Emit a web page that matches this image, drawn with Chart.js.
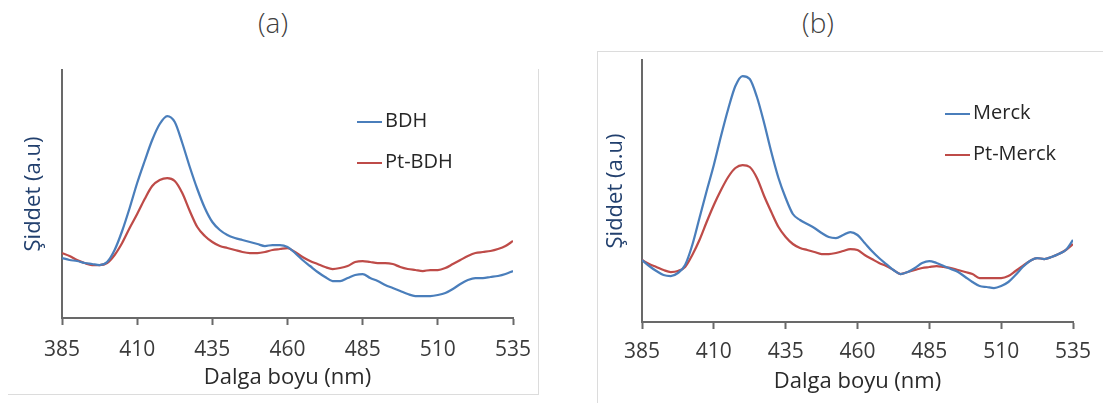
<!DOCTYPE html>
<html>
<head>
<meta charset="utf-8">
<title>Şiddet spektrumları</title>
<script src="https://cdn.jsdelivr.net/npm/chart.js@4.4.0/dist/chart.umd.min.js"></script>
<style>
  body { margin: 0; background: #fff; font-family: "Open Sans", sans-serif; }
  #wrap { position: relative; width: 1103px; height: 403px; overflow: hidden; }
  canvas { position: absolute; top: 0; }
  .panel-title { position: absolute; top: 3px; font-size: 28px; font-weight: 300; color: #404040; transform: translateX(-50%); }
  .frame { position: absolute; border: 0 solid #dcdcdc; }
  .legend { position: absolute; font-size: 20px; color: #262626; }
  .legend .item { height: 41px; line-height: 24px; white-space: nowrap; }
  .legend .swatch { display: inline-block; width: 25px; height: 2px; vertical-align: middle; margin-right: 3px; }
</style>
</head>
<body>
<div id="wrap">
  <div class="frame" style="left:8px; top:69px; width:530px; height:325px; border-right-width:1px; border-bottom-width:1px;"></div>
  <div class="frame" style="left:597px; top:51px; width:520px; height:352px; border-width:1px;"></div>
  <div class="panel-title" style="left:273px;">(a)</div>
  <div class="panel-title" style="left:818px;">(b)</div>
  <canvas id="chartA" width="550" height="403" style="left:0;"></canvas>
  <canvas id="chartB" width="553" height="403" style="left:550px;"></canvas>
  <div class="legend" id="legendA" style="left:357px; top:108px;"></div>
  <div class="legend" id="legendB" style="left:945px; top:100px;"></div>
</div>
<script>
// wavelength grid (nm)
const wavelengths = [385, 387.5, 390, 392.5, 395, 397.5, 400, 402.5, 405, 407.5,
  410, 412.5, 415, 417.5, 420, 422.5, 425, 427.5, 430, 432.5,
  435, 437.5, 440, 442.5, 445, 447.5, 450, 452.5, 455, 457.5,
  460, 462.5, 465, 467.5, 470, 472.5, 475, 477.5, 480, 482.5,
  485, 487.5, 490, 492.5, 495, 497.5, 500, 502.5, 505, 507.5,
  510, 512.5, 515, 517.5, 520, 522.5, 525, 527.5, 530, 532.5, 535];
const xTicks = [385, 410, 435, 460, 485, 510, 535];

// panel (a) intensities, a.u.
const bdh = [60, 58, 57, 55, 54, 53, 56, 68, 87, 110,
  135, 157, 178, 194, 202, 196, 175, 151, 129, 110,
  96, 88, 83, 80, 78, 76, 74, 72, 73, 73,
  71, 65, 58, 52, 46, 41, 37, 37, 40, 43,
  44, 40, 37, 33, 30, 27, 24, 22, 22, 22,
  23, 25, 29, 34, 38, 40, 40, 41, 42, 44, 47];
const ptBdh = [65, 62, 58, 55, 53, 53, 55, 63, 75, 90,
  104, 119, 132, 138, 140, 137, 125, 107, 91, 82,
  76, 72, 70, 68, 66, 65, 65, 66, 68, 69,
  70, 66, 61, 57, 54, 51, 49, 50, 52, 56,
  57, 56, 55, 55, 54, 51, 49, 48, 47, 48,
  48, 50, 54, 58, 62, 65, 66, 67, 69, 72, 77];

// panel (b) intensities, a.u.
const merck = [62, 56, 51, 47, 46, 49, 57, 77, 104, 131,
  157, 186, 213, 236, 246, 243, 225, 199, 170, 144,
  124, 108, 102, 98, 94, 89, 85, 84, 87, 90,
  87, 79, 71, 64, 58, 52, 48, 50, 54, 59,
  61, 59, 56, 53, 50, 45, 40, 36, 35, 34,
  36, 40, 47, 55, 61, 64, 63, 65, 68, 72, 82];
const ptMerck = [62, 58, 55, 52, 50, 51, 55, 67, 82, 100,
  117, 132, 145, 154, 157, 155, 144, 126, 110, 95,
  85, 78, 74, 72, 70, 68, 68, 69, 71, 73,
  72, 67, 63, 59, 56, 52, 48, 50, 52, 54,
  55, 56, 55, 54, 52, 50, 48, 44, 44, 44,
  44, 46, 51, 56, 61, 64, 63, 65, 68, 72, 78];

const namesA = ["BDH", "Pt-BDH"];
const namesB = ["Merck", "Pt-Merck"];
const colors = ["#4a7ebb", "#be4b48"];

const axisColor = "#696969";

function makeChart(id, legendId, names, series, yMax, box) {
  const datasets = series.map((vals, i) => ({
    label: names[i],
    data: vals.map((v, j) => ({ x: wavelengths[j], y: v })),
    borderColor: colors[i],
    borderWidth: 2.25,
    pointRadius: 0,
    fill: false,
    cubicInterpolationMode: "monotone"
  }));

  new Chart(document.getElementById(id), {
    type: "line",
    data: { datasets },
    options: {
      responsive: false,
      animation: false,
      layout: { padding: { left: 0, top: box.top, right: box.right, bottom: 0 } },
      plugins: { legend: { display: false }, tooltip: { enabled: false } },
      scales: {
        x: {
          type: "linear",
          min: 385,
          max: 535,
          afterBuildTicks: s => { s.ticks = xTicks.map(v => ({ value: v })); },
          afterFit: s => { s.height = box.xHeight; },
          ticks: { color: "#3a3a3a", font: { family: "Open Sans", size: 21 }, padding: box.tickPad },
          grid: { drawOnChartArea: false, drawTicks: true, tickLength: 7, tickColor: axisColor, tickWidth: 2 },
          border: { color: axisColor, width: 2 },
          title: {
            display: true,
            text: "Dalga boyu (nm)",
            color: "#2a2a2a",
            font: { family: "Open Sans", size: 22 },
            padding: { top: 0, bottom: box.titlePad }
          }
        },
        y: {
          min: 0,
          max: yMax,
          afterFit: s => { s.width = box.yWidth; },
          ticks: { display: false },
          grid: { display: false, drawTicks: false },
          border: { color: axisColor, width: 2 },
          title: {
            display: true,
            text: "Şiddet (a.u)",
            color: "#22406e",
            font: { family: "Open Sans", size: 22 },
            padding: { top: box.yTitlePad, bottom: 0 }
          }
        }
      }
    }
  });

  // legend entries built from the dataset names
  const leg = document.getElementById(legendId);
  names.forEach((n, i) => {
    const row = document.createElement("div");
    row.className = "item";
    row.innerHTML = `<span class="swatch" style="background:${colors[i]}"></span>${n}`;
    leg.appendChild(row);
  });
}

makeChart("chartA", "legendA", namesA, [bdh, ptBdh], 248,
  { top: 70, right: 37, xHeight: 85, yWidth: 62, tickPad: 12, titlePad: 12, yTitlePad: 21 });
makeChart("chartB", "legendB", namesB, [merck, ptMerck], 262,
  { top: 60, right: 30, xHeight: 81, yWidth: 92, tickPad: 10, titlePad: 8, yTitlePad: 53 });
</script>
</body>
</html>
